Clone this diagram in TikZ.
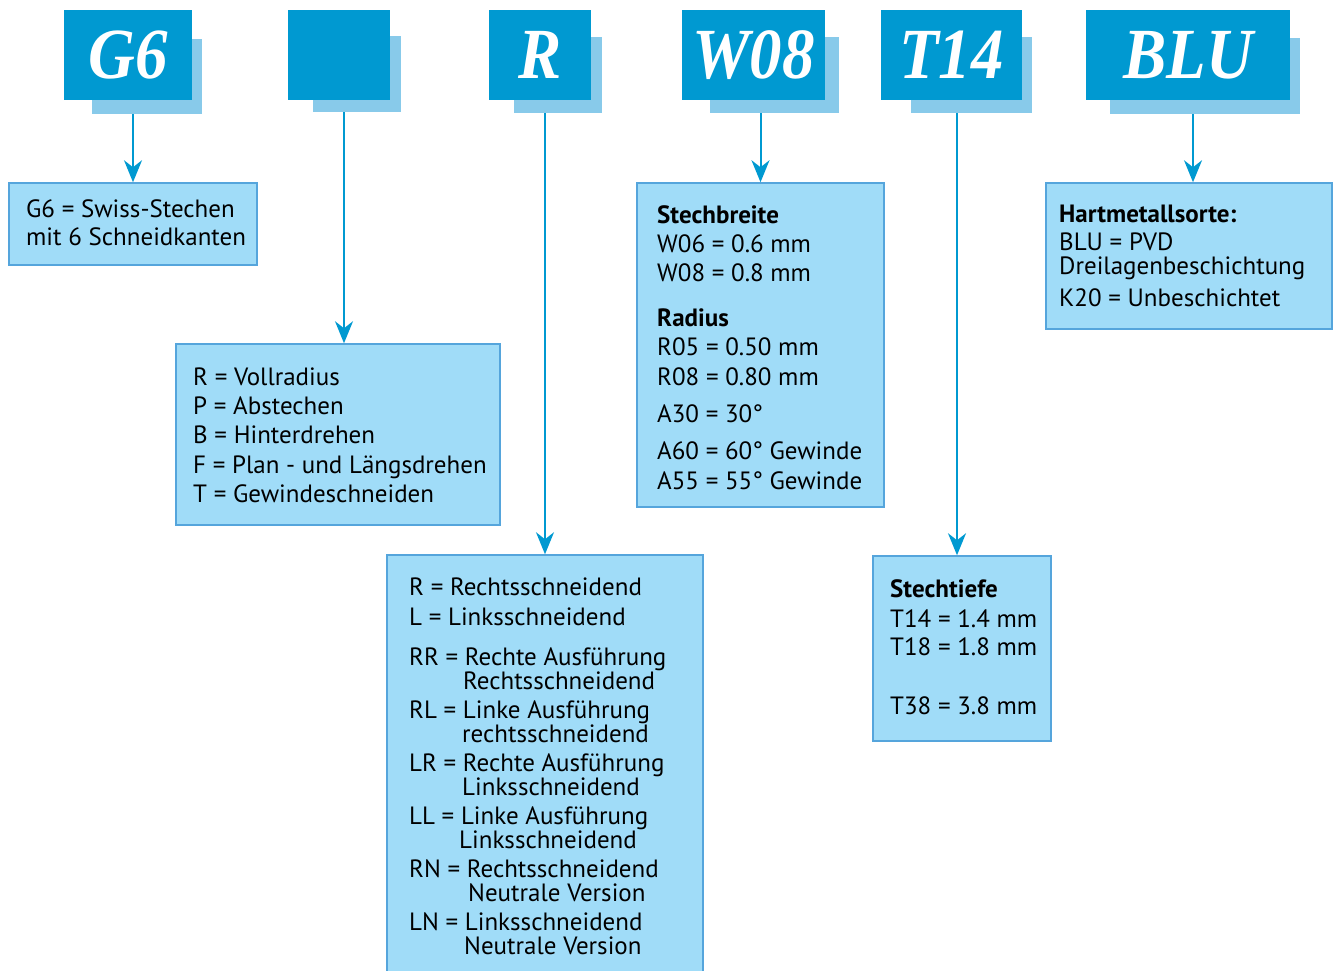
\documentclass[tikz,border=0pt]{standalone}
\usepackage{fontspec}
\setmainfont{PT Sans}
\newfontfamily\hdrfont[FakeStretch=0.9]{Liberation Serif}
\usetikzlibrary{arrows.meta}
\definecolor{hdr}{RGB}{0,153,209}
\definecolor{shd}{RGB}{136,202,234}
\definecolor{boxfill}{RGB}{160,220,248}
\definecolor{boxline}{RGB}{85,165,220}
\begin{document}
\begin{tikzpicture}[x=1pt,y=-1pt,
  hdrbox/.style={fill=hdr, draw=none, inner sep=0, text=white, text depth=0pt,
    font=\hdrfont\bfseries\itshape\fontsize{72}{72}\selectfont},
  shdbox/.style={fill=shd, draw=none, inner sep=0},
  infobox/.style={fill=boxfill, draw=boxline, line width=1.5pt, inner sep=0},
  txt/.style={anchor=base west, inner sep=0, font=\fontsize{25}{25}\selectfont},
  btxt/.style={txt, font=\fontsize{25}{25}\selectfont\bfseries},
  conn/.style={draw=hdr, line width=2pt, -{Stealth[length=22pt, width=18pt, inset=7pt]}}]
\useasboundingbox (0,0) rectangle (1338,971);
% shadows
\node[shdbox, minimum width=110, minimum height=75] (hgs) at (147,76.5) {};
\node[shdbox, minimum width=88, minimum height=76] (hes) at (357,74) {};
\node[shdbox, minimum width=88, minimum height=76] (hrs) at (558,75) {};
\node[shdbox, minimum width=129, minimum height=76] (hws) at (774.5,75) {};
\node[shdbox, minimum width=121, minimum height=76] (hts) at (971.5,75) {};
\node[shdbox, minimum width=190, minimum height=76] (hbs) at (1205,76) {};
% headers
\node[hdrbox, minimum width=128, minimum height=90] (hg) at (128,55) {G6};
\node[hdrbox, minimum width=102, minimum height=90] (he) at (339,55) {};
\node[hdrbox, minimum width=102, minimum height=90] (hr) at (540,55) {R};
\node[hdrbox, minimum width=143, minimum height=90] (hw) at (753.5,55) {W08};
\node[hdrbox, minimum width=141, minimum height=90] (ht) at (951.5,55) {T14};
\node[hdrbox, minimum width=204, minimum height=90] (hb) at (1188,55) {BLU};
% info boxes
\node[infobox, minimum width=248, minimum height=82] (gd) at (133,224) {};
\node[infobox, minimum width=324, minimum height=181] (ed) at (338,434.5) {};
\node[infobox, minimum width=316, minimum height=440] (rd) at (545,775) {};
\node[infobox, minimum width=247, minimum height=324] (wd) at (760.5,345) {};
\node[infobox, minimum width=178, minimum height=185] (td) at (962,648.5) {};
\node[infobox, minimum width=286, minimum height=146] (bd) at (1189,256) {};
% connectors
\coordinate (ge) at (gd.north);
\coordinate (ee) at ([xshift=6pt]ed.north);
\coordinate (re) at (rd.north);
\coordinate (we) at (wd.north);
\coordinate (te) at ([xshift=-5pt]td.north);
\coordinate (be) at ([xshift=4pt]bd.north);
\draw[conn] (ge |- hgs.south) -- (ge);
\draw[conn] (ee |- hes.south) -- (ee);
\draw[conn] (re |- hrs.south) -- (re);
\draw[conn] (we |- hws.south) -- (we);
\draw[conn] (te |- hts.south) -- (te);
\draw[conn] (be |- hbs.south) -- (be);
% G6 text
\node[txt] (g1) at (26,217) {G6 = Swiss-Stechen};
\node[txt] (g2) at (26,245) {mit 6 Schneidkanten};
% blank text
\node[txt] (e1) at (193,385) {R = Vollradius};
\node[txt] (e2) at (193,414) {P = Abstechen};
\node[txt] (e3) at (193,443) {B = Hinterdrehen};
\node[txt] (e4) at (193,473) {F = Plan - und Längsdrehen};
\node[txt] (e5) at (193,502) {T = Gewindeschneiden};
% R text
\node[txt] (r1) at (409,595) {R = Rechtsschneidend};
\node[txt] (r2) at (409,625) {L = Linksschneidend};
\node[txt] (r3) at (409,665) {RR = Rechte Ausführung};
\node[txt] (r3b) at (463,689) {Rechtsschneidend};
\node[txt] (r4) at (409,718) {RL = Linke Ausführung};
\node[txt] (r4b) at (462,742) {rechtsschneidend};
\node[txt] (r5) at (409,771) {LR = Rechte Ausführung};
\node[txt] (r5b) at (462,795) {Linksschneidend};
\node[txt] (r6) at (409,824) {LL = Linke Ausführung};
\node[txt] (r6b) at (459,848) {Linksschneidend};
\node[txt] (r7) at (409,877) {RN = Rechtsschneidend};
\node[txt] (r7b) at (468,901) {Neutrale Version};
\node[txt] (r8) at (409,930) {LN = Linksschneidend};
\node[txt] (r8b) at (464,954) {Neutrale Version};
% W08 text
\node[btxt] (w1) at (657,223) {Stechbreite};
\node[txt] (w2) at (657,252) {W06 = 0.6 mm};
\node[txt] (w3) at (657,281) {W08 = 0.8 mm};
\node[btxt] (w4) at (657,326) {Radius};
\node[txt] (w5) at (657,355) {R05 = 0.50 mm};
\node[txt] (w6) at (657,385) {R08 = 0.80 mm};
\node[txt] (w7) at (657,422) {A30 = 30°};
\node[txt] (w8) at (657,459) {A60 = 60° Gewinde};
\node[txt] (w9) at (657,489) {A55 = 55° Gewinde};
% T14 text
\node[btxt] (t1) at (890,597) {Stechtiefe};
\node[txt] (t2) at (890,627) {T14 = 1.4 mm};
\node[txt] (t3) at (890,655) {T18 = 1.8 mm};
\node[txt] (t4) at (890,714) {T38 = 3.8 mm};
% BLU text
\node[btxt] (b1) at (1059,222) {Hartmetallsorte:};
\node[txt] (b2) at (1059,250) {BLU = PVD};
\node[txt] (b3) at (1059,274) {Dreilagenbeschichtung};
\node[txt] (b4) at (1059,306) {K20 = Unbeschichtet};
\end{tikzpicture}
\end{document}
